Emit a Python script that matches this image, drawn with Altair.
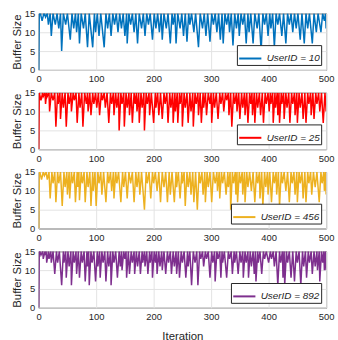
import altair as alt
import pandas as pd

X_TICKS = [0, 100, 200, 300, 400, 500]
Y_TICKS = [0, 5, 10, 15]
BUF_MAX = 15
ITER_END = 500

labels = ["UserID = 10", "UserID = 25", "UserID = 456", "UserID = 892"]
colors = ["#0072BD", "#FF0000", "#EDB120", "#7E2F8E"]

# dips: (iteration, minimum buffer size)
s1_iter = [6, 12, 17, 22, 29, 35, 40, 47, 55, 61, 66, 71, 78, 85, 94, 99, 105, 114, 120, 126, 132, 138, 144, 150, 154, 160, 166, 172, 179, 185, 191, 198, 204, 210, 215, 222, 229, 234, 239, 246, 252, 258, 263, 270, 278, 285, 291, 298, 304, 310, 316, 321, 327, 332, 338, 344, 349, 355, 361, 366, 373, 380, 387, 393, 399, 404, 410, 416, 423, 430, 436, 442, 448, 455, 462, 468, 476, 483, 491, 497]
s1_val = [13, 14, 12, 9, 12, 11, 5, 12, 8, 11, 10, 7, 11, 6, 6, 10, 9, 6, 11, 9, 12, 10, 11, 9, 7, 12, 10, 7, 11, 9, 12, 8, 11, 10, 8, 11, 7, 12, 7, 11, 9, 7.5, 12, 10, 6, 11, 9, 7.5, 12, 10, 8, 7, 12, 10, 6.5, 11, 9, 12, 7, 10, 7, 11, 5, 12, 9, 11, 6, 12, 9, 7, 12, 10, 11, 8, 7, 11, 7, 10, 10, 13]
s1_end = 11

s2_iter = [4, 8, 12, 15, 19, 25, 30, 34, 38, 43, 48, 53, 57, 62, 67, 72, 77, 83, 86, 91, 96, 101, 106, 111, 116, 122, 127, 131, 136, 140, 145, 149, 154, 158, 163, 168, 171, 175, 180, 184, 189, 193, 200, 204, 209, 215, 220, 225, 230, 234, 238, 242, 246, 250, 255, 260, 265, 269, 274, 278, 283, 287, 292, 298, 301, 306, 312, 317, 322, 327, 331, 336, 341, 345, 350, 355, 359, 364, 369, 372, 376, 381, 386, 391, 396, 401, 404, 408, 412, 416, 419, 423, 427, 432, 437, 442, 446, 450, 455, 460, 465, 470, 474, 479, 484, 489, 495, 499]
s2_val = [13, 14, 12, 14, 10, 13, 6, 12, 8, 11, 6, 12, 10, 13, 7, 11, 6, 12, 10, 9, 12, 11, 9, 13, 11, 7, 12, 9, 11, 5, 12, 6, 11, 9, 7, 12, 10, 7, 11, 5, 12, 9, 7, 11, 9, 8, 12, 7, 11, 7, 10, 7, 12, 6, 11, 7, 10, 6, 12, 9, 7, 11, 9, 12, 7, 11, 8, 12, 10, 13, 9, 6, 12, 10, 8, 11, 9, 7, 12, 9, 7, 11, 9, 7, 12, 10, 12, 7, 11, 9, 7, 12, 8, 11, 7, 12, 9, 7, 11, 8, 7, 12, 9, 8, 12, 10, 7, 13]
s2_end = 10

s3_iter = [5, 10, 15, 20, 25, 30, 35, 41, 46, 50, 54, 59, 64, 68, 71, 76, 81, 86, 91, 95, 100, 105, 110, 117, 122, 127, 131, 136, 143, 148, 154, 160, 166, 171, 176, 184, 189, 195, 200, 206, 212, 218, 224, 229, 236, 240, 246, 250, 255, 260, 265, 270, 276, 281, 286, 290, 295, 301, 307, 311, 315, 320, 326, 330, 334, 339, 343, 346, 351, 355, 359, 364, 370, 376, 381, 385, 390, 395, 399, 405, 410, 414, 419, 424, 430, 436, 441, 446, 450, 455, 460, 465, 470, 475, 481, 488, 493, 497]
s3_val = [13, 14, 13, 8, 12, 7, 12, 6, 11, 9, 8, 12, 7, 11, 7.5, 12, 7, 11, 6, 10, 6, 12, 9, 7, 12, 10, 8, 12, 7, 11, 8, 12, 7, 11, 9, 5, 12, 8, 12, 10, 7, 11, 7, 9, 7, 11, 8, 12, 6, 11, 9, 7, 5, 12, 9, 7, 11, 7, 12, 10, 8, 12, 9, 11, 5, 12, 9, 7, 12, 9, 7, 11, 10, 7, 12, 8, 6, 11, 9, 7, 12, 9, 6, 12, 10, 7, 12, 9, 7, 12, 8, 7, 12, 9, 11, 7, 12, 10]
s3_end = 9

s4_iter = [4, 8, 12, 14, 18, 22, 28, 33, 40, 44, 48, 53, 57, 62, 66, 71, 76, 81, 85, 88, 93, 99, 103, 107, 112, 117, 122, 126, 131, 137, 142, 145, 150, 153, 158, 163, 167, 172, 177, 181, 185, 190, 194, 198, 203, 206, 211, 215, 221, 226, 231, 236, 240, 245, 250, 256, 260, 266, 272, 277, 282, 287, 292, 298, 303, 307, 312, 317, 320, 327, 332, 337, 341, 347, 352, 356, 361, 365, 370, 375, 378, 382, 388, 393, 400, 405, 410, 416, 421, 425, 428, 433, 439, 445, 450, 456, 461, 466, 471, 476, 481, 485, 489, 494, 497]
s4_val = [14, 13, 14, 12, 13, 12, 9, 12, 6, 12, 8, 11, 6, 12, 9, 8, 12, 7, 11, 6, 12, 7, 11, 8, 12, 7, 11, 6, 12, 8, 11, 10, 13, 8, 9, 12, 9, 11, 9, 12, 11, 9, 12, 8, 12, 9, 11, 10, 9, 12, 9, 11, 9, 8, 12, 8, 11, 6, 12, 6, 13, 11, 13, 8, 12, 7, 13, 8, 12, 8, 13, 9, 12, 9, 12, 8, 12, 8, 11, 9, 7, 12, 9, 13, 12, 13, 11, 6, 12, 8, 6, 12, 8, 7, 12, 6, 11, 8, 12, 9, 11, 10, 7, 12, 10]
s4_end = 10

series = [
    (s1_iter, s1_val, s1_end),
    (s2_iter, s2_val, s2_end),
    (s3_iter, s3_val, s3_end),
    (s4_iter, s4_val, s4_end),
]


def build(dips, vals, end_val):
    rows = [(0, 0), (1, BUF_MAX)]
    prev_peak = 1
    for k, (d, v) in enumerate(zip(dips, vals)):
        start = max(prev_peak, d - int(round((BUF_MAX - v) * 1.5)))
        if start > prev_peak and start < d:
            rows.append((start, BUF_MAX))
        rows.append((d, v))
        nxt = dips[k + 1] if k + 1 < len(dips) else ITER_END
        peak = min(d + 3, nxt - 1)
        if peak > d:
            rows.append((peak, BUF_MAX))
            prev_peak = peak
        else:
            prev_peak = d
    rows.append((ITER_END, end_val))
    return pd.DataFrame(rows, columns=["iter", "buf"])


FONT = "Liberation Sans"
TXT = "#262626"

panels = []
for i, ((it, vals, end), lab, col) in enumerate(zip(series, labels, colors)):
    df = build(it, vals, end)
    df["label"] = lab
    last = i == len(series) - 1
    xaxis = alt.Axis(values=X_TICKS, title="Iteration" if last else None,
                     ticks=False, labelPadding=4, grid=True, labelFlush=False, titlePadding=9)
    ch = alt.Chart(df).mark_line(strokeWidth=1.5, clip=True).encode(
        x=alt.X("iter:Q", scale=alt.Scale(domain=[0, ITER_END], nice=False, zero=False), axis=xaxis),
        y=alt.Y("buf:Q", scale=alt.Scale(domain=[0, BUF_MAX], nice=False),
                axis=alt.Axis(values=Y_TICKS, title="Buffer Size", ticks=False, labelPadding=4,
                              grid=True, labelFlush=False, titlePadding=2)),
        color=alt.Color("label:N", scale=alt.Scale(domain=[lab], range=[col]),
                        legend=alt.Legend(title=None, orient="bottom-right", offset=5,
                                          fillColor="white", strokeColor="#262626",
                                          padding=1, symbolType="stroke", symbolSize=500,
                                          symbolStrokeWidth=2, labelFontStyle="italic",
                                          labelFontSize=10, labelColor=TXT, labelFont=FONT)),
        order="iter:Q",
    ).properties(width=290, height=57)
    panels.append(ch)

chart = alt.vconcat(*panels, spacing=23, bounds="flush").resolve_scale(color="independent").resolve_legend(color="independent").properties(
    padding={"left": 10, "top": 6, "right": 3, "bottom": 0}
).configure_view(stroke="#262626", strokeWidth=1).configure_axis(
    labelFont=FONT, titleFont=FONT, labelFontSize=9.5, titleFontSize=11.5, labelColor=TXT, titleColor=TXT,
    titleFontWeight="normal", gridColor="#e3e3e3", domain=False
)

chart.save("out.html", embed_options={"renderer": "svg", "actions": False})
